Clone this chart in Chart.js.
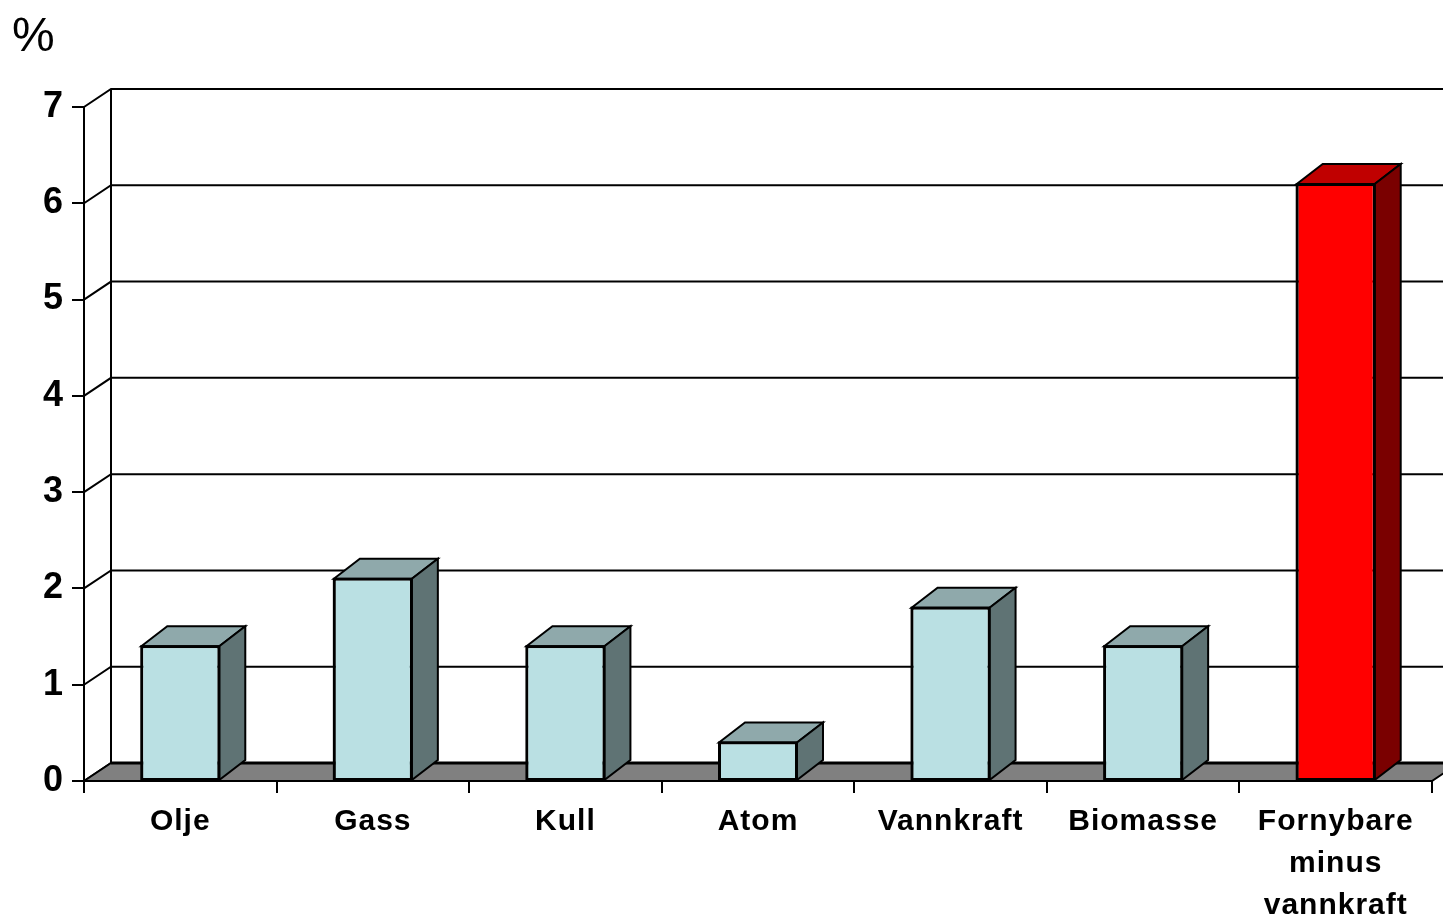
<!DOCTYPE html>
<html><head><meta charset="utf-8">
<script src="https://cdn.jsdelivr.net/npm/chart.js@4.4.1/dist/chart.umd.min.js"></script>
<style>html,body{margin:0;padding:0;background:#fff;overflow:hidden}#wrap{width:1443px;height:919px;position:relative}</style>
</head><body><div id="wrap"><canvas id="c" width="1443" height="919"></canvas></div>
<script>
// ---- data ----
const categories = ['Olje', 'Gass', 'Kull', 'Atom', 'Vannkraft', 'Biomasse', ['Fornybare', 'minus', 'vannkraft']];
const values = [1.4, 2.1, 1.4, 0.4, 1.8, 1.4, 6.2];
const yTicks = [0, 1, 2, 3, 4, 5, 6, 7];
const unitLabel = '%';

// ---- styles ----
const blueFront = '#BAE0E3', blueTop = '#8FA9AB', blueSide = '#5F7374';
const redFront = '#FF0000', redTop = '#C00000', redSide = '#7A0000';
const frontColors = [blueFront, blueFront, blueFront, blueFront, blueFront, blueFront, redFront];
const topColors = [blueTop, blueTop, blueTop, blueTop, blueTop, blueTop, redTop];
const sideColors = [blueSide, blueSide, blueSide, blueSide, blueSide, blueSide, redSide];
const WALL_DX = 27, WALL_DY = -18, BAR_DX = 26, BAR_DY = -20;
const FONT = '"Liberation Sans", Arial, sans-serif';

const threeD = {
  id: 'threeD',
  beforeDraw(chart) { chart.ctx.letterSpacing = '1px'; },
  beforeDatasetsDraw(chart) {
    const ctx = chart.ctx, a = chart.chartArea, y = chart.scales.y;
    ctx.letterSpacing = '0px';
    const W = chart.width;
    const bx = a.left + WALL_DX;
    const y0 = y.getPixelForValue(yTicks[0]);
    const yTop = y.getPixelForValue(yTicks[yTicks.length - 1]);
    ctx.save();
    ctx.strokeStyle = '#000';
    ctx.lineWidth = 2;
    ctx.lineCap = 'butt';
    yTicks.forEach(v => {
      const py = y.getPixelForValue(v);
      ctx.beginPath();
      ctx.moveTo(a.left, py);
      ctx.lineTo(bx, py + WALL_DY);
      if (v !== yTicks[0]) ctx.lineTo(W + 5, py + WALL_DY);
      ctx.stroke();
    });
    ctx.beginPath();
    ctx.moveTo(bx, yTop + WALL_DY);
    ctx.lineTo(bx, y0 + WALL_DY);
    ctx.stroke();
    ctx.beginPath();
    ctx.moveTo(a.left, y0);
    ctx.lineTo(bx, y0 + WALL_DY);
    ctx.lineTo(a.right + WALL_DX, y0 + WALL_DY);
    ctx.lineTo(a.right, y0);
    ctx.closePath();
    ctx.fillStyle = '#808080';
    ctx.fill();
    ctx.lineWidth = 2;
    ctx.stroke();
    ctx.lineWidth = 3;
    ctx.beginPath();
    ctx.moveTo(bx, y0 + WALL_DY);
    ctx.lineTo(a.right + WALL_DX, y0 + WALL_DY);
    ctx.stroke();
    ctx.restore();
  },
  afterDatasetsDraw(chart) {
    const ctx = chart.ctx;
    const meta = chart.getDatasetMeta(0);
    ctx.save();
    ctx.strokeStyle = '#000';
    ctx.lineWidth = 2;
    ctx.lineJoin = 'miter';
    meta.data.forEach((bar, i) => {
      const p = bar.getProps(['x', 'y', 'base', 'width'], true);
      const l = p.x - p.width / 2, r = p.x + p.width / 2, t = p.y, b = p.base;
      ctx.beginPath();
      ctx.moveTo(l, t);
      ctx.lineTo(l + BAR_DX, t + BAR_DY);
      ctx.lineTo(r + BAR_DX, t + BAR_DY);
      ctx.lineTo(r, t);
      ctx.closePath();
      ctx.fillStyle = topColors[i];
      ctx.fill();
      ctx.stroke();
      ctx.beginPath();
      ctx.moveTo(r, t);
      ctx.lineTo(r + BAR_DX, t + BAR_DY);
      ctx.lineTo(r + BAR_DX, b + BAR_DY);
      ctx.lineTo(r, b);
      ctx.closePath();
      ctx.fillStyle = sideColors[i];
      ctx.fill();
      ctx.stroke();
      ctx.strokeRect(l, t, p.width, b - t);
    });
    ctx.restore();
  },
  afterDraw(chart) {
    const ctx = chart.ctx;
    ctx.save();
    ctx.letterSpacing = '0px';
    ctx.fillStyle = '#000';
    ctx.font = '48px ' + FONT;
    ctx.textBaseline = 'alphabetic';
    ctx.textAlign = 'left';
    ctx.fillText(unitLabel, 12, 51);
    ctx.restore();
  }
};

new Chart(document.getElementById('c'), {
  type: 'bar',
  data: {
    labels: categories,
    datasets: [{
      data: values,
      backgroundColor: frontColors,
      borderColor: '#000',
      borderWidth: 2,
      borderSkipped: false,
      barPercentage: 0.81,
      categoryPercentage: 0.5
    }]
  },
  options: {
    responsive: false,
    animation: false,
    devicePixelRatio: 1,
    layout: { padding: { left: 0, right: 11, top: 107, bottom: 0 } },
    plugins: { legend: { display: false }, tooltip: { enabled: false }, title: { display: false } },
    scales: {
      x: {
        offset: true,
        grid: { offset: true, drawOnChartArea: false, color: '#000', lineWidth: 2, tickLength: 12 },
        border: { display: true, color: '#000', width: 2 },
        ticks: {
          color: '#000', maxRotation: 0, minRotation: 0, autoSkip: false, padding: 8,
          font: { family: FONT, size: 30, weight: 'bold', lineHeight: 1.4 }
        },
        afterFit(scale) { scale.height = 138; }
      },
      y: {
        min: 0, max: 7,
        afterBuildTicks(scale) { scale.ticks = yTicks.map(v => ({ value: v })); },
        grid: { drawOnChartArea: false, color: '#000', lineWidth: 2, tickLength: 12 },
        border: { display: true, color: '#000', width: 2 },
        ticks: {
          color: '#000', padding: 8,
          font: { family: FONT, size: 36, weight: 'bold' }
        },
        afterFit(scale) { scale.width = 84; }
      }
    }
  },
  plugins: [threeD]
});
</script>
</body></html>
